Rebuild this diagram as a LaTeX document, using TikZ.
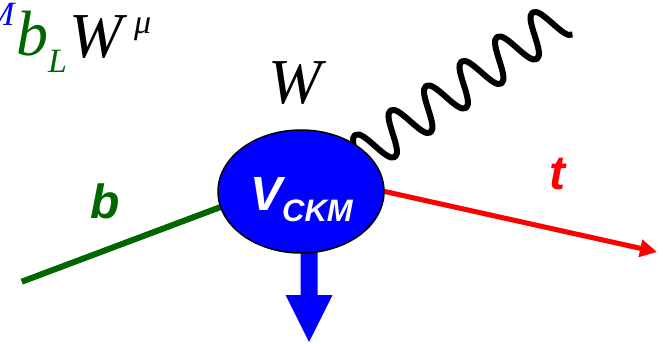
\documentclass[tikz,border=0pt]{standalone}
\usepackage{fontspec}
\setmainfont{Liberation Serif}
\newfontfamily\arialf{Liberation Sans}
\usetikzlibrary{arrows.meta,shapes.geometric,calc,backgrounds}
\definecolor{vblue}{RGB}{0,0,255}
\definecolor{dgreen}{RGB}{0,102,0}
\definecolor{tred}{RGB}{255,0,0}
\tikzset{
  lbl/.style={inner sep=0pt, anchor=base west},
  sanslbl/.style={lbl, font=\fontsize{48pt}{48pt}\selectfont\arialf\bfseries\itshape},
  sanssub/.style={lbl, font=\fontsize{31pt}{31pt}\selectfont\arialf\bfseries\itshape},
  serlbl/.style={lbl, font=\fontsize{64pt}{64pt}\selectfont\itshape},
  sersub/.style={lbl, font=\fontsize{34pt}{34pt}\selectfont\itshape},
  vertex/.style={ellipse, draw=black, fill=vblue, line width=1.5pt, minimum width=166pt, minimum height=123pt, inner sep=0pt},
  fermion/.style={line width=#1, line cap=butt},
  photon/.style={line width=6pt, line join=round, line cap=butt}
}
\begin{document}
\begin{tikzpicture}[x=1pt,y=-1pt]
\useasboundingbox (0,0) rectangle (663,344);
\node[vertex] (V) at (301,191.5) {};
\coordinate (bEnd) at (21.7,281.7);
\coordinate (tTip) at (657,252);
\begin{pgfonlayer}{background}
  \fill[vblue] (300.5,240) -- (317.5,240) -- (317.5,295) -- (332.5,295) -- (309,342) -- (285.5,295) -- (300.5,295) -- cycle;
  \draw[dgreen, fermion=6pt] ($(V.191)!-8pt!(bEnd)$) -- (bEnd);
  \draw[tred, fermion=5pt, -{Triangle[length=17pt,width=17pt]}] ($(V.east)!-8pt!(tTip)$) -- (tTip);
  \begin{scope}[shift={(366.1pt,-152.1pt)}, x={(8.875pt,6.125pt)}, y={(11.125pt,-17.125pt)}]
    \draw[photon] (-2,1) .. controls (-1.05,1) and (-0.95,-1) .. (0,-1)
      .. controls (0.95,-1) and (1.05,1) .. (2,1)
      .. controls (2.95,1) and (3.05,-1) .. (4,-1)
      .. controls (4.95,-1) and (5.05,1) .. (6,1)
      .. controls (6.95,1) and (7.05,-1) .. (8,-1)
      .. controls (8.95,-1) and (9.05,1) .. (10,1)
      .. controls (10.95,1) and (11.05,-1) .. (12,-1)
      .. controls (12.95,-1) and (13.05,1) .. (14,1)
      .. controls (14.95,1) and (15.05,-1) .. (16,-1)
      .. controls (16.95,-1) and (17.05,1) .. (18,1)
      .. controls (18.95,1) and (19.05,-1) .. (20,-1)
      .. controls (20.95,-1) and (21.05,1) .. (22,1);
  \end{scope}
\end{pgfonlayer}
\node[sanslbl, white] (vV) at (250,211) {V};
\node[sanssub, white] (vCKM) at (282,221.7) {CKM};
\node[sanslbl, dgreen] (lb) at (90,219) {b};
\node[sanslbl, tred] (lt) at (549,190) {t};
\node[serlbl] (lW) at (268,104) {W};
\node[sersub, vblue] (tM) at (-14,26) {M};
\node[serlbl, dgreen] (tb) at (16,56) {b};
\node[sersub, dgreen] (tL) at (48,73) {L};
\node[serlbl] (tW) at (69.5,58) {W};
\node[sersub] (tmu) at (134,34) {μ};
\end{tikzpicture}
\end{document}
